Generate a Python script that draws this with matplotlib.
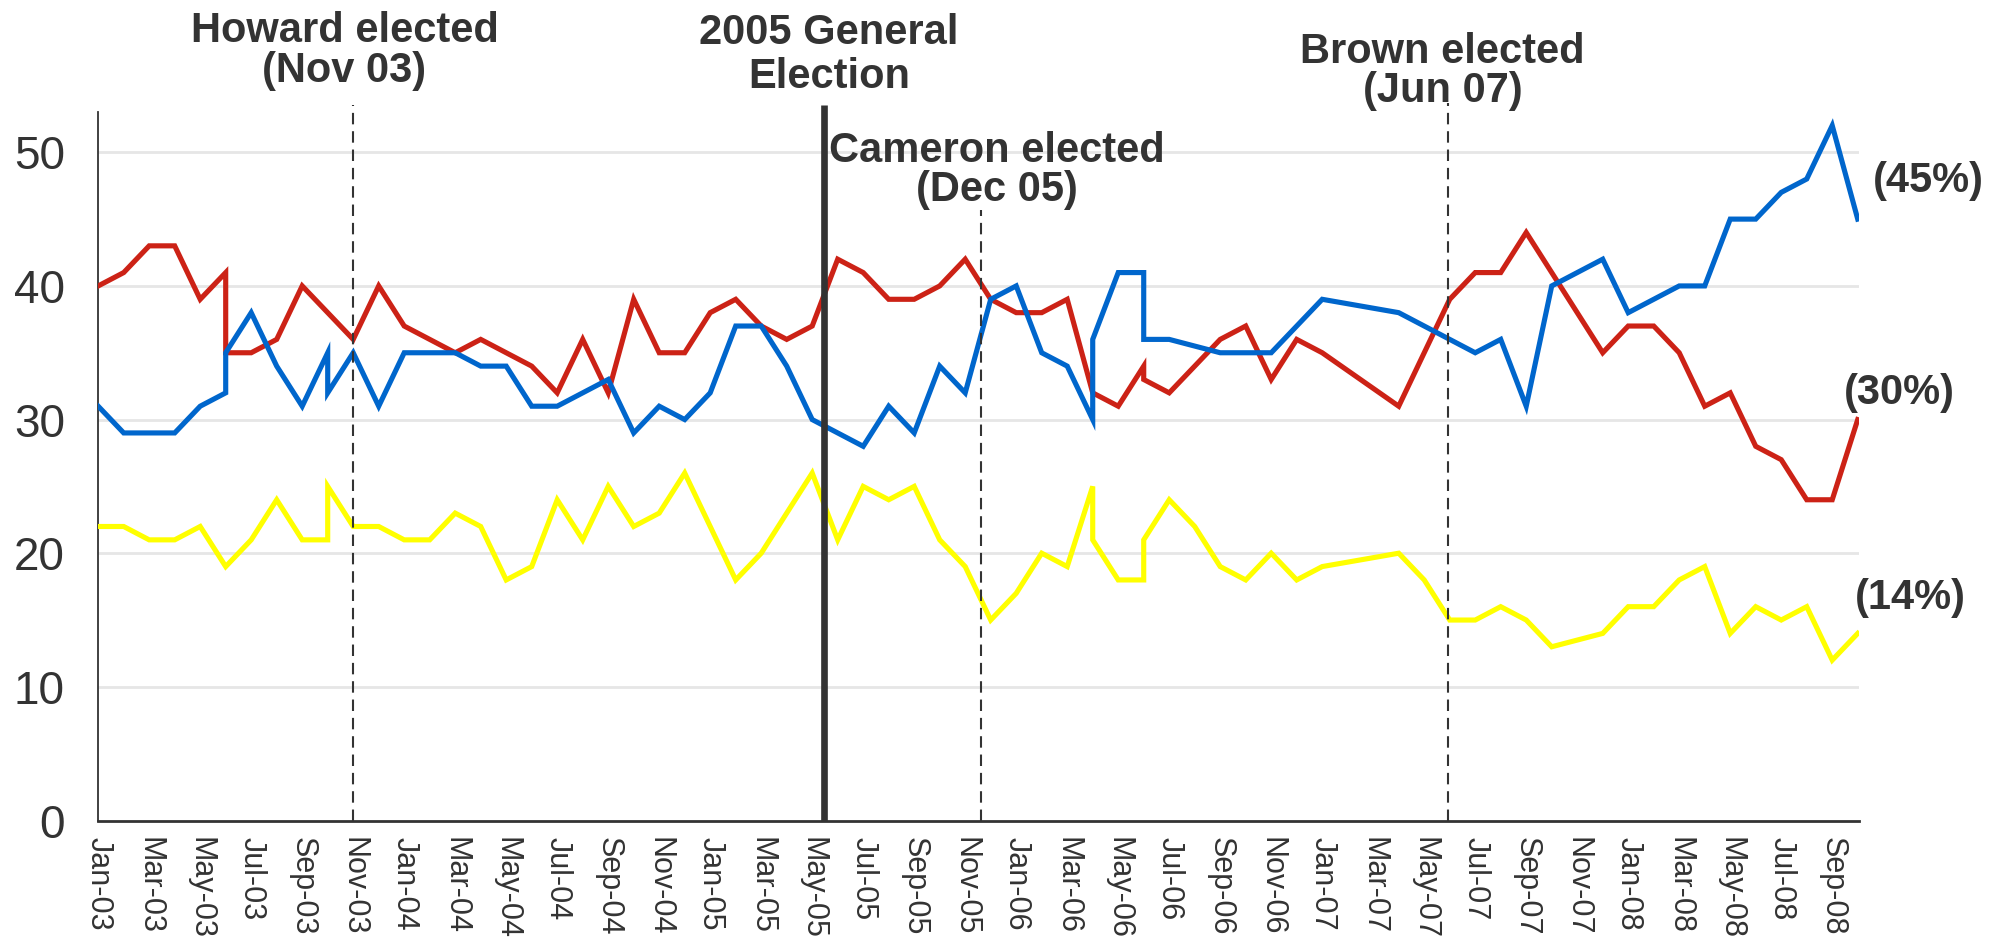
import matplotlib
matplotlib.use("Agg")
import matplotlib.pyplot as plt

# ---------------- data (x = months since Jan-03) ----------------
LAB_MONTHS = [0, 1, 2, 3, 4, 5, 5, 6, 7, 8, 9, 10, 11, 12, 13, 14, 15, 16, 17, 18,
              19, 20, 21, 22, 23, 24, 25, 26, 27, 28, 29, 30, 31, 32, 33, 34, 35, 36,
              37, 38, 39, 40, 41, 41, 42, 44, 45, 46, 47, 48, 51, 52, 53, 54, 55, 56,
              59, 60, 61, 62, 63, 64, 65, 66, 67, 68, 69]
LAB_VALUES = [40, 41, 43, 43, 39, 41, 35, 35, 36, 40, 38, 36, 40, 37, 36, 35, 36, 35, 34, 32,
              36, 32, 39, 35, 35, 38, 39, 37, 36, 37, 42, 41, 39, 39, 40, 42, 39, 38,
              38, 39, 32, 31, 34, 33, 32, 36, 37, 33, 36, 35, 31, 35, 39, 41, 41, 44,
              35, 37, 37, 35, 31, 32, 28, 27, 24, 24, 30]

CON_MONTHS = [0, 1, 2, 3, 4, 5, 5, 6, 7, 8, 9, 9, 10, 11, 12, 13, 14, 15, 16, 17,
              18, 19, 20, 21, 22, 23, 24, 25, 26, 27, 28, 29, 30, 31, 32, 33, 34, 35,
              36, 37, 38, 39, 39, 40, 41, 41, 42, 44, 45, 46, 48, 51, 54, 55, 56, 57,
              59, 60, 62, 63, 64, 65, 66, 67, 68, 69]
CON_VALUES = [31, 29, 29, 29, 31, 32, 35, 38, 34, 31, 35, 32, 35, 31, 35, 35, 35, 34, 34, 31,
              31, 32, 33, 29, 31, 30, 32, 37, 37, 34, 30, 29, 28, 31, 29, 34, 32, 39,
              40, 35, 34, 30, 36, 41, 41, 36, 36, 35, 35, 35, 39, 38, 35, 36, 31, 40,
              42, 38, 40, 40, 45, 45, 47, 48, 52, 45]

LD_MONTHS = [0, 1, 2, 3, 4, 5, 6, 7, 8, 9, 9, 10, 11, 12, 13, 14, 15, 16, 17, 18,
             19, 20, 21, 22, 23, 24, 25, 26, 27, 28, 29, 30, 31, 32, 33, 34, 35, 36,
             37, 38, 39, 39, 40, 41, 41, 42, 43, 44, 45, 46, 47, 48, 51, 52, 53, 54,
             55, 56, 57, 59, 60, 61, 62, 63, 64, 65, 66, 67, 68, 69]
LD_VALUES = [22, 22, 21, 21, 22, 19, 21, 24, 21, 21, 25, 22, 22, 21, 21, 23, 22, 18, 19, 24,
             21, 25, 22, 23, 26, 22, 18, 20, 23, 26, 21, 25, 24, 25, 21, 19, 15, 17,
             20, 19, 25, 21, 18, 18, 21, 24, 22, 19, 18, 20, 18, 19, 20, 18, 15, 15,
             16, 15, 13, 14, 16, 16, 18, 19, 14, 16, 15, 16, 12, 14]

TICK_LABELS = ["Jan-03", "Mar-03", "May-03", "Jul-03", "Sep-03", "Nov-03",
               "Jan-04", "Mar-04", "May-04", "Jul-04", "Sep-04", "Nov-04",
               "Jan-05", "Mar-05", "May-05", "Jul-05", "Sep-05", "Nov-05",
               "Jan-06", "Mar-06", "May-06", "Jul-06", "Sep-06", "Nov-06",
               "Jan-07", "Mar-07", "May-07", "Jul-07", "Sep-07", "Nov-07",
               "Jan-08", "Mar-08", "May-08", "Jul-08", "Sep-08"]
Y_TICKS = [0, 10, 20, 30, 40, 50]

EVENT_NAMES = ["Howard elected\n(Nov 03)", "2005 General\nElection",
               "Cameron elected\n(Dec 05)", "Brown elected\n(Jun 07)"]
EVENT_MONTHS = [10.0, 28.45, 34.62, 52.95]

END_LABELS = ["(45%)", "(30%)", "(14%)"]

# ---------------- style ----------------
W, H = 2006, 943
fig = plt.figure(figsize=(W / 100, H / 100), dpi=100)
plt.rcParams["font.family"] = ["Liberation Sans", "DejaVu Sans"]
DARK = "#333333"

x_left, x_right = 98.2, 1859.0
y_bottom, y_top = 820.5, 112.2
ax = fig.add_axes([x_left / W, (H - y_bottom) / H, (x_right - x_left) / W, (y_bottom - y_top) / H])
ax.set_xlim(0, 69.05)
ax.set_ylim(0, 53)

RED = "#cc2216"
BLUE = "#0066cc"
YELLOW = "#ffff00"
LW = 3.7

ax.plot(LAB_MONTHS, LAB_VALUES, color=RED, lw=LW, solid_joinstyle="miter", zorder=3)
ax.plot(CON_MONTHS, CON_VALUES, color=BLUE, lw=LW, solid_joinstyle="miter", zorder=3)
ax.plot(LD_MONTHS, LD_VALUES, color=YELLOW, lw=LW, solid_joinstyle="miter", zorder=3)

# grid
ax.set_yticks(Y_TICKS)
for v in Y_TICKS[1:]:
    ax.axhline(v, color="#e6e6e6", lw=2.0, zorder=1)

# spines
for s in ["top", "right"]:
    ax.spines[s].set_visible(False)
ax.spines["left"].set_color(DARK)
ax.spines["left"].set_linewidth(1.3)
ax.spines["bottom"].set_color(DARK)
ax.spines["bottom"].set_linewidth(2.0)

ax.set_xticks(list(range(0, 69, 2)))
ax.set_xticklabels(TICK_LABELS, rotation=270, fontsize=22, color=DARK)
ax.tick_params(axis="x", length=0, pad=12)
ax.tick_params(axis="y", length=0, pad=24, labelsize=33, labelcolor=DARK)

# event lines
top_px = {0: 105, 1: 105, 2: 210, 3: 103}
for i, m in enumerate(EVENT_MONTHS):
    ytop = (y_bottom - top_px[i]) / (y_bottom - y_top) * 53
    if i == 1:
        ax.plot([m, m], [0, ytop], color=DARK, lw=4.8, solid_capstyle="butt",
                clip_on=False, zorder=5)
    else:
        ax.plot([m, m], [0, ytop], color=DARK, lw=1.5, dashes=(5.5, 3.3),
                clip_on=False, zorder=5)

# event texts: (center month, baseline1 from top, baseline2 from top)
TEXT_POS = [(9.66, 41.7, 82.0), (28.66, 44.0, 88.0), (35.25, 161.7, 201.5), (52.72, 63.0, 102.0)]
for name, (cx, b1, b2) in zip(EVENT_NAMES, TEXT_POS):
    l1, l2 = name.split("\n")
    for txt, b in ((l1, b1), (l2, b2)):
        ax.annotate(txt, xy=(cx, H - b), xycoords=("data", "figure pixels"),
                    ha="center", va="baseline", fontsize=30, fontweight="bold",
                    color=DARK, annotation_clip=False)

# end labels
END_POS = [(69.59, H - 180.8), (68.46, H - 392.8), (68.88, H - 597.5)]
for txt, (mx, py) in zip(END_LABELS, END_POS):
    ax.annotate(txt, xy=(mx, py), xycoords=("data", "figure pixels"),
                ha="left", va="center", fontsize=30, fontweight="bold",
                color=DARK, annotation_clip=False)

fig.savefig("out.png", dpi=100, facecolor="white")
